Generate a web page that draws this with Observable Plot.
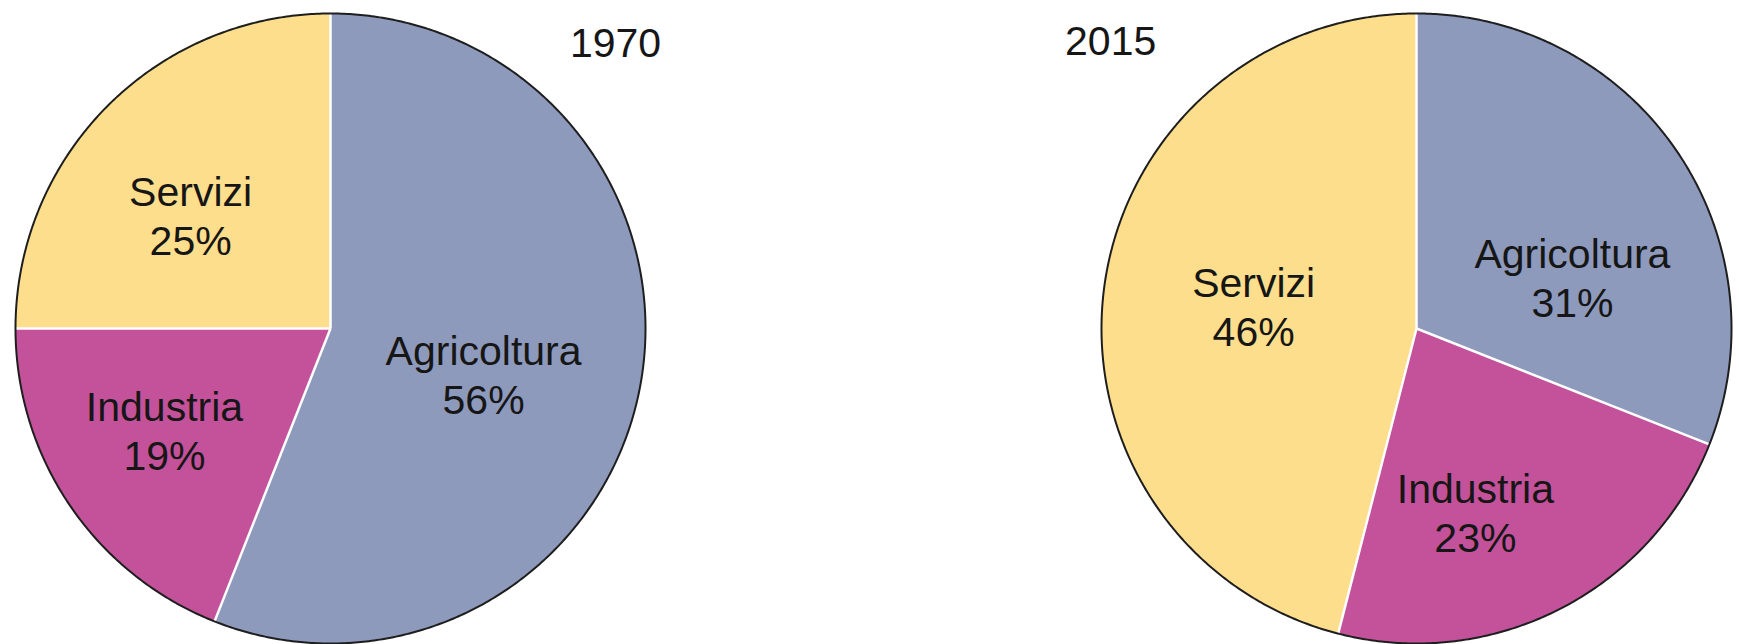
<!DOCTYPE html>
<html>
<head>
<meta charset="utf-8">
<script src="https://cdn.jsdelivr.net/npm/d3@7"></script>
<script src="https://cdn.jsdelivr.net/npm/@observablehq/plot@0.6"></script>
<style>
  html, body { margin: 0; padding: 0; background: #ffffff; }
  #chart svg { display: block; }
</style>
</head>
<body>
<div id="chart"></div>
<script>
// ---- data ----
const sectors = ["Agricoltura", "Industria", "Servizi"];
const years = ["1970", "2015"];
const share1970 = [56, 19, 25];
const share2015 = [31, 23, 46];
const sectorColors = ["#8e9abc", "#c4529b", "#fdde8c"];

// ---- layout (unit coordinates inside each pie, radius = 1) ----
const labelPos = {
  "1970": {Agricoltura: [0.486, -0.272], Industria: [-0.527, -0.45], Servizi: [-0.444, 0.232]},
  "2015": {Agricoltura: [0.495, 0.035], Industria: [0.187, -0.711], Servizi: [-0.517, -0.057]}
};
const yearPos = {"1970": [0.905, 0.863], "2015": [-0.971, 0.867]};

const shares = {"1970": share1970, "2015": share2015};

// build slice polygons, boundaries, outline and labels from the data
const slicePts = [];
const bounds = [];
const outline = [];
const labels = [];
const yearLabels = years.map(yr => ({year: yr, text: yr, x: yearPos[yr][0], y: yearPos[yr][1]}));

for (const yr of years) {
  const vals = shares[yr];
  const total = d3.sum(vals);
  let acc = 0;
  sectors.forEach((s, i) => {
    const a0 = acc / total * 2 * Math.PI;
    acc += vals[i];
    const a1 = acc / total * 2 * Math.PI;
    const key = yr + "-" + s;
    bounds.push({year: yr, sector: s, x: Math.sin(a0), y: Math.cos(a0)});
    slicePts.push({year: yr, sector: s, key, x: 0, y: 0});
    const n = Math.max(2, Math.ceil((a1 - a0) / (Math.PI / 360)));
    for (let k = 0; k <= n; k++) {
      const a = a0 + (a1 - a0) * k / n;
      slicePts.push({year: yr, sector: s, key, x: Math.sin(a), y: Math.cos(a)});
    }
    slicePts.push({year: yr, sector: s, key, x: 0, y: 0});
    labels.push({year: yr, sector: s, text: s + "\n" + vals[i] + "%",
                 x: labelPos[yr][s][0], y: labelPos[yr][s][1]});
  });
  for (let k = 0; k <= 720; k++) {
    const a = k / 720 * 2 * Math.PI;
    outline.push({year: yr, x: Math.sin(a), y: Math.cos(a)});
  }
}

const font = "'Liberation Sans', Arial, Helvetica, sans-serif";

const chart = Plot.plot({
  width: 1739,
  height: 644,
  marginTop: 13,
  marginBottom: 1,
  marginLeft: 15,
  marginRight: 8,
  style: {background: "#ffffff", overflow: "visible"},
  fx: {domain: years, paddingInner: 0.42, paddingOuter: 0, axis: null, label: null},
  x: {domain: [-1, 1], axis: null},
  y: {domain: [-1, 1], axis: null},
  color: {domain: sectors, range: sectorColors},
  marks: [
    Plot.line(outline, {fx: "year", x: "x", y: "y", z: "year", fill: "#ffffff", stroke: "none", ariaLabel: "pie-shadow"}),
    Plot.line(slicePts, {fx: "year", x: "x", y: "y", z: "key", fill: "sector", stroke: "none"}),
    Plot.link(bounds, {fx: "year", x1: 0, y1: 0, x2: "x", y2: "y", stroke: "#ffffff", strokeWidth: 2.5}),
    Plot.line(outline, {fx: "year", x: "x", y: "y", z: "year", stroke: "#1e1e1e", strokeWidth: 2, fill: "none"}),
    Plot.text(labels, {fx: "year", x: "x", y: "y", text: "text", fontSize: 41, fontFamily: font,
      fill: "#161616", textAnchor: "middle", lineAnchor: "bottom", lineHeight: 1.195}),
    Plot.text(yearLabels, {fx: "year", x: "x", y: "y", text: "text", fontSize: 41, fontFamily: font,
      fill: "#161616", textAnchor: "middle", lineAnchor: "bottom"})
  ]
});

chart.querySelectorAll('[aria-label="pie-shadow"] path').forEach(p => {
  p.style.filter = "drop-shadow(6px 6px 7px rgba(0,0,0,0.25))";
});

document.getElementById("chart").appendChild(chart);
</script>
</body>
</html>
